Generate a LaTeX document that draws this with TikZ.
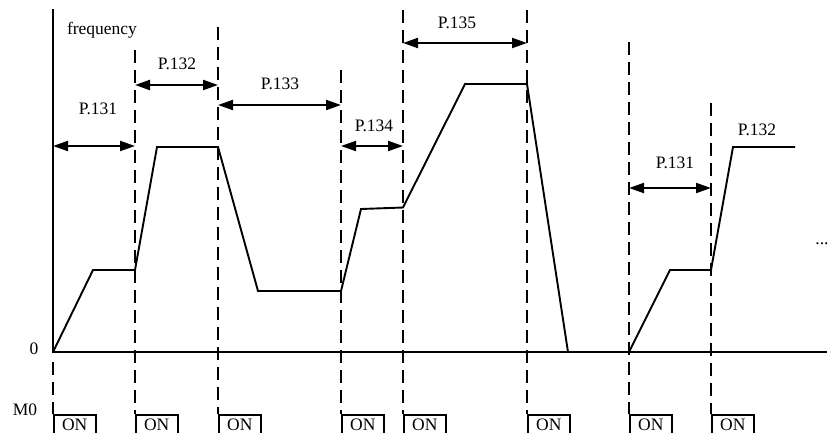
\documentclass[tikz,border=0pt]{standalone}
\usepackage{fontspec}
\setmainfont{Liberation Serif}
\usetikzlibrary{arrows.meta}
\begin{document}
\begin{tikzpicture}[x=1pt,y=-1pt,
  wave/.style={line width=1.9pt, line join=miter},
  guide/.style={line width=2.1pt, dash pattern=on 13pt off 7pt},
  span/.style={line width=2pt, {Triangle[length=15pt,width=10pt]}-{Triangle[length=15pt,width=10pt]}},
  lbl/.style={font=\fontsize{17.5}{20}\selectfont, inner sep=0pt, anchor=base},
  onbox/.style={draw, line width=1.5pt, anchor=north west, minimum width=42pt,
    inner xsep=0pt, inner ysep=0pt, text height=15.5pt, text depth=12pt,
    font=\fontsize{17.5}{20}\selectfont}]
\useasboundingbox (0,0) rectangle (829,432);
\clip (0,0) rectangle (829,432);
% axes
\coordinate (ytop) at (53,9);
\coordinate (origin) at (53,352);
\coordinate (xend) at (827,352);
\draw[line width=1.9pt] (ytop) -- (origin) -- (xend);
% guides with ON boxes
\foreach \x/\t/\n in {53/362/a, 135/50/b, 218/27/c, 341/70/d, 403/10/e, 527/10/f, 629/42/g, 711/103/h}{
  \coordinate (top\n) at (\x,\t);
  \node[onbox] (on\n) at (\x,414) {ON};
  \draw[guide] (top\n) -- (on\n.north west);
}
% waveform
\draw[wave] (origin) -- (93,270) -- (135,270) -- (157,147) -- (218,147) -- (258,291)
  -- (341,291) -- (361,209) -- (403,207.5) -- (465,84) -- (527,84) -- (568,352);
\draw[wave] (629,352) -- (670,270) -- (711,270) -- (733,147) -- (795,147);
% spans
\coordinate (s1a) at (53,146);  \coordinate (s1b) at (135,146);
\coordinate (s2a) at (135,85);  \coordinate (s2b) at (218,85);
\coordinate (s3a) at (218,105); \coordinate (s3b) at (341,105);
\coordinate (s4a) at (341,146); \coordinate (s4b) at (403,146);
\coordinate (s5a) at (403,43);  \coordinate (s5b) at (527,43);
\coordinate (s6a) at (629,188); \coordinate (s6b) at (711,188);
\draw[span] (s1a) -- (s1b);
\draw[span] (s2a) -- (s2b);
\draw[span] (s3a) -- (s3b);
\draw[span] (s4a) -- (s4b);
\draw[span] (s5a) -- (s5b);
\draw[span] (s6a) -- (s6b);
% labels
\node[lbl] (freq) at (102,34) {frequency};
\node[lbl] (l131) at (98,114) {P.131};
\node[lbl] (l132) at (177,69) {P.132};
\node[lbl] (l133) at (280,89) {P.133};
\node[lbl] (l134) at (374,131) {P.134};
\node[lbl] (l135) at (457,28) {P.135};
\node[lbl] (l131b) at (675,168) {P.131};
\node[lbl] (l132b) at (757,135) {P.132};
\node[lbl] (zero) at (34,354) {0};
\node[lbl] (mzero) at (25,415) {M0};
\node[lbl] (dots) at (822,244) {...};
\end{tikzpicture}
\end{document}
